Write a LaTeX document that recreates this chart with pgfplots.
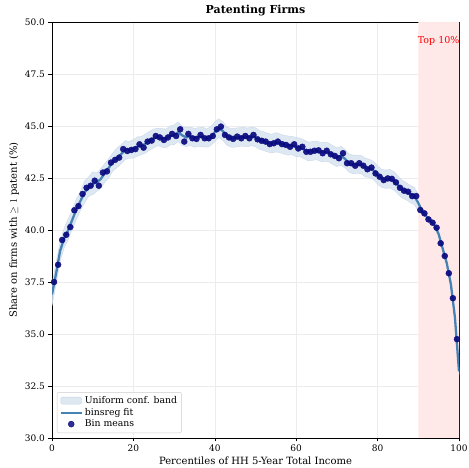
\documentclass[border=0pt]{standalone}
\usepackage{fontspec}
\setmainfont{DejaVu Serif}
\usepackage{pgfplots}
\pgfplotsset{compat=1.18}
\usepackage{pgfplotstable}
\usepgfplotslibrary{fillbetween}
\definecolor{bandcol}{RGB}{216,228,240}
\definecolor{bandedge}{RGB}{196,212,230}
\definecolor{fitcol}{RGB}{70,130,180}
\definecolor{navycol}{RGB}{10,10,128}
\definecolor{pinkcol}{RGB}{255,232,232}

\pgfplotstableread{
x y
0.5 37.50
1.5 38.33
2.5 39.52
3.5 39.77
4.5 40.14
5.5 40.95
6.5 41.15
7.5 41.73
8.5 42.03
9.5 42.13
10.5 42.37
11.5 42.13
12.5 42.76
13.5 42.82
14.5 43.24
15.5 43.37
16.5 43.48
17.5 43.89
18.5 43.80
19.5 43.85
20.5 43.89
21.5 44.12
22.5 43.96
23.5 44.25
24.5 44.30
25.5 44.52
26.5 44.45
27.5 44.33
28.5 44.45
29.5 44.62
30.5 44.52
31.5 44.84
32.5 44.25
33.5 44.62
34.5 44.41
35.5 44.38
36.5 44.57
37.5 44.41
38.5 44.41
39.5 44.52
40.5 44.84
41.5 44.97
42.5 44.57
43.5 44.45
44.5 44.38
45.5 44.49
46.5 44.41
47.5 44.52
48.5 44.41
49.5 44.57
50.5 44.36
51.5 44.29
52.5 44.25
53.5 44.13
54.5 44.17
55.5 44.25
56.5 44.13
57.5 44.09
58.5 44.00
59.5 44.12
60.5 43.92
61.5 44.00
62.5 43.76
63.5 43.76
64.5 43.81
65.5 43.83
66.5 43.69
67.5 43.81
68.5 43.64
69.5 43.56
70.5 43.45
71.5 43.69
72.5 43.21
73.5 43.21
74.5 43.09
75.5 43.21
76.5 43.09
77.5 42.92
78.5 43.00
79.5 42.72
80.5 42.56
81.5 42.40
82.5 42.48
83.5 42.46
84.5 42.29
85.5 42.03
86.5 41.89
87.5 41.84
88.5 41.63
89.5 41.63
90.5 40.96
91.5 40.80
92.5 40.51
93.5 40.35
94.5 40.11
95.5 39.36
96.5 38.75
97.5 37.92
98.5 36.72
99.5 34.75
}\means

\pgfplotstableread{
x fit lo hi
0 36.90 36.35 37.40
1 37.90 37.40 38.45
2 39.00 38.50 39.45
3 39.60 39.15 40.10
4 40.00 39.55 40.55
5 40.50 40.05 40.95
6 41.00 40.50 41.50
7 41.40 40.95 41.85
8 41.80 41.30 42.35
9 42.05 41.62 42.55
10 42.20 41.70 42.80
11 42.30 41.85 42.75
12 42.45 42.00 42.95
13 42.75 42.30 43.20
14 43.00 42.52 43.45
15 43.30 42.85 43.72
16 43.45 43.00 43.95
17 43.65 43.18 44.10
18 43.85 43.40 44.30
19 43.85 43.45 44.25
20 43.90 43.45 44.35
21 44.00 43.55 44.48
22 44.05 43.62 44.50
23 44.15 43.70 44.62
24 44.30 43.85 44.75
25 44.40 43.95 44.85
26 44.48 44.05 44.90
27 44.40 43.98 44.88
28 44.42 43.95 44.85
29 44.52 44.08 45.00
30 44.58 44.10 45.05
31 44.70 44.25 45.20
32 44.55 44.05 44.98
33 44.45 44.02 44.92
34 44.50 44.05 44.95
35 44.42 43.98 44.88
36 44.47 44.02 44.92
37 44.47 44.00 44.95
38 44.42 43.98 44.85
39 44.47 44.05 44.98
40 44.70 44.25 45.20
41 44.90 44.45 45.35
42 44.75 44.30 45.20
43 44.50 44.08 44.95
44 44.42 43.98 44.88
45 44.43 43.98 44.90
46 44.45 44.02 44.92
47 44.47 44.03 44.95
48 44.46 44.00 44.90
49 44.50 44.05 44.95
50 44.45 44.00 44.92
51 44.32 43.88 44.78
52 44.27 43.82 44.72
53 44.18 43.75 44.65
54 44.15 43.70 44.60
55 44.20 43.75 44.68
56 44.17 43.72 44.62
57 44.10 43.65 44.55
58 44.05 43.60 44.52
59 44.06 43.62 44.50
60 43.98 43.52 44.45
61 43.96 43.52 44.42
62 43.86 43.42 44.32
63 43.76 43.32 44.22
64 43.79 43.35 44.25
65 43.82 43.38 44.28
66 43.74 43.30 44.20
67 43.76 43.30 44.22
68 43.72 43.28 44.18
69 43.60 43.15 44.05
70 43.50 43.05 43.95
71 43.57 43.12 44.02
72 43.42 42.98 43.88
73 43.21 42.78 43.65
74 43.15 42.70 43.60
75 43.15 42.72 43.60
76 43.15 42.70 43.58
77 43.00 42.55 43.45
78 42.96 42.52 43.40
79 42.86 42.42 43.30
80 42.64 42.20 43.08
81 42.48 42.05 42.92
82 42.44 42.00 42.88
83 42.47 42.02 42.92
84 42.37 41.92 42.80
85 42.16 41.72 42.60
86 41.96 41.55 42.40
87 41.86 41.45 42.28
88 41.73 41.32 42.15
89 41.63 41.22 42.05
90 41.30 40.92 41.70
91 40.88 40.50 41.25
92 40.65 40.28 41.02
93 40.43 40.08 40.80
94 40.22 39.88 40.55
95 39.80 39.50 40.10
96 39.10 38.82 39.38
97 38.40 38.15 38.65
98 37.40 37.18 37.62
99 35.80 35.60 36.00
100 33.20 33.05 33.35
}\fitdata

\begin{document}
\begin{tikzpicture}
\begin{axis}[
  scale only axis,
  width=407pt, height=416pt,
  xmin=0, xmax=100, ymin=30, ymax=50,
  xtick={0,20,40,60,80,100},
  ytick={30,32.5,35,37.5,40,42.5,45,47.5,50},
  yticklabel style={/pgf/number format/.cd,fixed,fixed zerofill,precision=1},
  /pgf/number format/assume math mode=true,
  tick label style={font=\fontsize{9}{10}\selectfont},
  tick pos=left, tick align=outside,
  major tick length=3.5pt,
  every tick/.style={black, line width=0.6pt},
  grid=major,
  grid style={gray!15, line width=0.5pt},
  axis line style={black, line width=0.6pt},
  title={\bfseries Patenting Firms},
  title style={font=\fontsize{11}{13}\selectfont, yshift=-3pt},
  xlabel={Percentiles of HH 5-Year Total Income},
  ylabel={Share on firms with $\geq 1$ patent (\%)},
  label style={font=\fontsize{10}{12}\selectfont},
  xlabel style={yshift=2pt},
  ylabel style={yshift=-1pt},
  legend cell align=left,
  legend style={at={(0.012,0.012)}, anchor=south west, font=\fontsize{9.3}{11}\selectfont,
    draw=gray!40, rounded corners=2pt, fill=white, fill opacity=0.85, text opacity=1,
    row sep=-1pt, inner sep=2.5pt},
]
\addplot[draw=none, fill=pinkcol, forget plot] coordinates {(90,30) (100,30) (100,50) (90,50)} \closedcycle;
\addplot[name path=lo, draw=none, forget plot] table[x=x, y=lo] {\fitdata};
\addplot[name path=hi, draw=none, forget plot] table[x=x, y=hi] {\fitdata};
\addplot[fill=bandcol, draw=bandedge, line width=0.3pt, fill opacity=0.85, forget plot] fill between[of=lo and hi];
\addplot[fitcol, line width=2.3pt, forget plot] table[x=x, y=fit] {\fitdata};
\addplot[only marks, mark=*, mark size=3pt, mark options={fill=navycol, draw=navycol, fill opacity=0.92, draw opacity=0.92}, forget plot] table[x=x, y=y] {\means};
\addlegendimage{legend image code/.code={\fill[bandcol, draw=bandedge] (0pt,-3pt) rectangle (21pt,4pt);}}
\addlegendentry{Uniform conf. band}
\addlegendimage{legend image code/.code={\draw[fitcol, line width=2.3pt] (0pt,0pt) -- (21pt,0pt);}}
\addlegendentry{binsreg fit}
\addlegendimage{legend image code/.code={\fill[navycol] (10.5pt,0pt) circle (3pt);}}
\addlegendentry{Bin means}
\node[red, font=\fontsize{9.5}{11}\selectfont] at (axis cs:95,49.1) {Top 10\%};
\end{axis}
\pgfresetboundingbox
\path[use as bounding box] (-52pt,-30pt) rectangle (417pt,438pt);
\end{tikzpicture}
\end{document}
